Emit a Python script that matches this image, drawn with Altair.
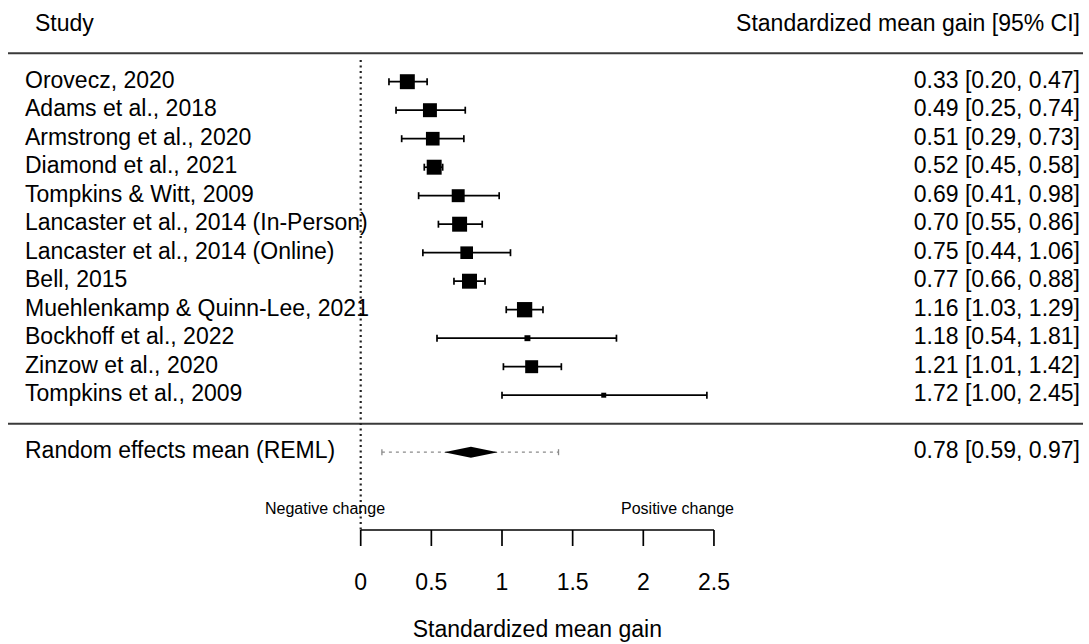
import altair as alt
import pandas as pd

# ---------------- data ----------------
studies = [
    "Orovecz, 2020",
    "Adams et al., 2018",
    "Armstrong et al., 2020",
    "Diamond et al., 2021",
    "Tompkins & Witt, 2009",
    "Lancaster et al., 2014 (In-Person)",
    "Lancaster et al., 2014 (Online)",
    "Bell, 2015",
    "Muehlenkamp & Quinn-Lee, 2021",
    "Bockhoff et al., 2022",
    "Zinzow et al., 2020",
    "Tompkins et al., 2009",
]
est = [0.33, 0.49, 0.51, 0.52, 0.69, 0.70, 0.75, 0.77, 1.16, 1.18, 1.21, 1.72]
lo = [0.20, 0.25, 0.29, 0.45, 0.41, 0.55, 0.44, 0.66, 1.03, 0.54, 1.01, 1.00]
hi = [0.47, 0.74, 0.73, 0.58, 0.98, 0.86, 1.06, 0.88, 1.29, 1.81, 1.42, 2.45]
weights = [10.8, 9.4, 9.0, 10.8, 8.1, 10.8, 7.7, 10.8, 11.3, 1.7, 8.1, 1.2]

summary_label = "Random effects mean (REML)"
summary_est = 0.78
summary_lo = 0.59
summary_hi = 0.97
pi_lo = 0.15
pi_hi = 1.40

tick_values = [0, 0.5, 1, 1.5, 2, 2.5]
tick_labels = ["0", "0.5", "1", "1.5", "2", "2.5"]
x_title = "Standardized mean gain"
left_header = "Study"
right_header = "Standardized mean gain [95% CI]"
neg_label = "Negative change"
pos_label = "Positive change"

# ---------------- layout helpers ----------------
W, H = 1089, 644
X0_PX, PX_PER_UNIT = 360.7, 141.3
ROW1_PX, ROW_PX = 81.7, 28.5


def xv(px):
    return (px - X0_PX) / PX_PER_UNIT


def yr(py):
    return 1 + (py - ROW1_PX) / ROW_PX


FONT = "Liberation Sans"
xs = alt.Scale(domain=[xv(0), xv(W)], nice=False, zero=False)
ys = alt.Scale(domain=[yr(0), yr(H)], nice=False, zero=False, reverse=True)


def X(field, **kw):
    return alt.X(field, type="quantitative", scale=xs, axis=None, **kw)


def Y(field, **kw):
    return alt.Y(field, type="quantitative", scale=ys, axis=None, **kw)


n = len(studies)
rows = list(range(1, n + 1))
df = pd.DataFrame({"study": studies, "est": est, "lo": lo, "hi": hi,
                   "w": weights, "row": rows})
df["label"] = [f"{e:.2f} [{l:.2f}, {h:.2f}]" for e, l, h in zip(est, lo, hi)]

summary_row = n + 2
sep_rows = [0, n + 1]

# separator lines
hlines = alt.Chart(pd.DataFrame({"y": sep_rows, "x": [xv(8)] * 2, "x2": [xv(1083)] * 2})).mark_rule(
    color="#3a3a3a", strokeWidth=2
).encode(x=X("x"), x2="x2", y=Y("y"))

# zero reference line
axis_row = yr(530)
zero_line = alt.Chart(pd.DataFrame({"x": [0.0], "y": [yr(60)], "y2": [axis_row]})).mark_rule(
    color="#222222", strokeWidth=2.2, strokeDash=[2, 3.5]
).encode(x=X("x"), y=Y("y"), y2="y2")

# CI lines
ci = alt.Chart(df).mark_rule(color="black", strokeWidth=1.7).encode(
    x=X("lo"), x2="hi", y=Y("row")
)
caps_df = pd.DataFrame({"x": lo + hi, "row": rows + rows})
caps = alt.Chart(caps_df).mark_tick(
    orient="vertical", size=7, thickness=1.7, color="black", opacity=1
).encode(x=X("x"), y=Y("row"))

squares = alt.Chart(df).mark_point(
    shape="square", filled=True, color="black", opacity=1, strokeWidth=0
).encode(
    x=X("est"), y=Y("row"),
    size=alt.Size("w", type="quantitative", legend=None,
                  scale=alt.Scale(domain=[0, max(weights)], range=[0, 15.3 ** 2]))
)

left_text = alt.Chart(df).mark_text(
    align="left", baseline="middle", fontSize=23, font=FONT, color="black", dy=-1
).encode(x=alt.value(25), y=Y("row"), text="study")

right_text = alt.Chart(df).mark_text(
    align="right", baseline="middle", fontSize=23, font=FONT, color="black", dy=-1
).encode(x=alt.value(1080), y=Y("row"), text="label")

# headers
hdr = pd.DataFrame({"t": [left_header], "y": [-1]})
hdr_left = alt.Chart(hdr).mark_text(
    align="left", baseline="middle", fontSize=23, font=FONT, color="black", dy=-1
).encode(x=alt.value(35), y=Y("y"), text="t")
hdr2 = pd.DataFrame({"t": [right_header], "y": [-1]})
hdr_right = alt.Chart(hdr2).mark_text(
    align="right", baseline="middle", fontSize=23, font=FONT, color="black", dy=-1
).encode(x=alt.value(1080), y=Y("y"), text="t")

# summary
sm = pd.DataFrame({"lab": [summary_label],
                   "txt": [f"{summary_est:.2f} [{summary_lo:.2f}, {summary_hi:.2f}]"],
                   "y": [summary_row], "plo": [pi_lo], "phi": [pi_hi]})
pi_line = alt.Chart(sm).mark_rule(color="#8a8a8a", strokeWidth=1.3, strokeDash=[3, 4]).encode(
    x=X("plo"), x2="phi", y=Y("y")
)
pi_caps = alt.Chart(pd.DataFrame({"x": [pi_lo, pi_hi], "y": [summary_row] * 2})).mark_tick(
    orient="vertical", size=6, thickness=1.3, color="#8a8a8a", opacity=1
).encode(x=X("x"), y=Y("y"))

half = 5.5 / ROW_PX
dia = pd.DataFrame({
    "x": [summary_lo, summary_est, summary_hi],
    "y": [summary_row, summary_row - half, summary_row],
    "y2": [summary_row, summary_row + half, summary_row],
})
diamond = alt.Chart(dia).mark_area(color="black", opacity=1).encode(
    x=X("x"), y=Y("y"), y2="y2"
)
sm_left = alt.Chart(sm).mark_text(
    align="left", baseline="middle", fontSize=23, font=FONT, color="black", dy=-1
).encode(x=alt.value(25), y=Y("y"), text="lab")
sm_right = alt.Chart(sm).mark_text(
    align="right", baseline="middle", fontSize=23, font=FONT, color="black", dy=-1
).encode(x=alt.value(1080), y=Y("y"), text="txt")

# direction labels
dirs = pd.DataFrame({"t": [neg_label, pos_label], "x": [xv(325), xv(677.5)], "y": [yr(509)] * 2})
dir_text = alt.Chart(dirs).mark_text(
    align="center", baseline="middle", fontSize=16, font=FONT, color="black"
).encode(x=X("x"), y=Y("y"), text="t")

# manual axis
ax = pd.DataFrame({"v": tick_values, "lab": tick_labels,
                   "y": [axis_row] * len(tick_values),
                   "y2": [yr(546)] * len(tick_values),
                   "yl": [yr(583)] * len(tick_values)})
axis_line = alt.Chart(pd.DataFrame({"a": [min(tick_values)], "b": [max(tick_values)], "y": [axis_row]})).mark_rule(
    color="black", strokeWidth=1.7
).encode(x=X("a"), x2="b", y=Y("y"))
axis_ticks = alt.Chart(ax).mark_rule(color="black", strokeWidth=1.7).encode(
    x=X("v"), y=Y("y"), y2="y2"
)
axis_labels = alt.Chart(ax).mark_text(
    align="center", baseline="middle", fontSize=23, font=FONT, color="black"
).encode(x=X("v"), y=Y("yl"), text="lab")
title_df = pd.DataFrame({"t": [x_title], "x": [(min(tick_values) + max(tick_values)) / 2], "y": [yr(630)]})
axis_title = alt.Chart(title_df).mark_text(
    align="center", baseline="middle", fontSize=23, font=FONT, color="black"
).encode(x=X("x"), y=Y("y"), text="t")

chart = alt.layer(
    hlines, zero_line, ci, caps, squares, left_text, right_text, hdr_left, hdr_right,
    pi_line, pi_caps, diamond, sm_left, sm_right, dir_text,
    axis_line, axis_ticks, axis_labels, axis_title
).properties(
    width=W, height=H, padding=0, autosize=alt.AutoSizeParams(type="none"),
    background="white"
).configure_view(strokeWidth=0)

chart.save("out.html", embed_options={"renderer": "svg", "actions": False})
